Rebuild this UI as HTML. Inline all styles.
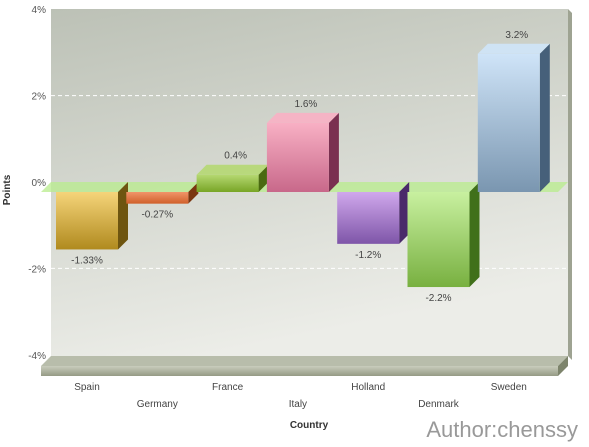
<!DOCTYPE html>
<html><head><meta charset="utf-8"><style>
body{margin:0;background:#fff;}
svg text{font-family:"Liberation Sans",sans-serif;}
</style></head><body>
<svg id="c" width="589" height="442" viewBox="0 0 589 442">
<defs>
<linearGradient id="bg" x1="0" y1="0" x2="0.3" y2="1"><stop offset="0" stop-color="#bcc1b6"/><stop offset="1" stop-color="#ecede8"/></linearGradient>
<linearGradient id="flr" x1="0" y1="0" x2="0" y2="1"><stop offset="0" stop-color="#c9cdbd"/><stop offset="1" stop-color="#959b85"/></linearGradient>
</defs>
<rect x="51" y="9" width="517" height="347" fill="url(#bg)"/>
<polygon points="568,9 572,13 572,360 568,356" fill="#9ea392"/>
<g id="grid"></g>
<g id="floor">
<polygon points="51,356 568,356 558,366 41,366" fill="#b8bdab"/>
<rect x="41" y="366" width="517" height="10" fill="url(#flr)"/>
<polygon points="558,366 568,356 568,366 558,376" fill="#7d846c"/>
</g>
<polygon points="51,182 568,182 558,192 41,192" fill="#b8ec8c" opacity="0.75"/>
<g id="bars"></g>
<g id="labels"></g>
<text x="10" y="190" transform="rotate(-90 10 190)" text-anchor="middle" font-size="10" font-weight="bold" fill="#333">Points</text>
<text x="309" y="428" text-anchor="middle" font-size="10" font-weight="bold" fill="#333">Country</text>
<text x="578" y="437" text-anchor="end" font-size="22" fill="#999">Author:chenssy</text>
</svg>
<script>
const categories=["Spain","Germany","France","Italy","Holland","Denmark","Sweden"];
const values=[-1.33,-0.27,0.4,1.6,-1.2,-2.2,3.2];
const valueLabels=["-1.33%","-0.27%","0.4%","1.6%","-1.2%","-2.2%","3.2%"];
const yTicks=[4,2,0,-2,-4];
const colors=[["#f5d47a","#b08a1e","#6e5510"],["#f0956a","#d0602a","#7a3510"],["#b5d872","#78a526","#4a6a10"],["#f8b0c4","#c8688a","#7a3050"],["#d0a8ec","#7e55a8","#4a2a6a"],["#c8f0a0","#78b040","#40701a"],["#cfe4f8","#7a96b0","#46607a"]];
const NS="http://www.w3.org/2000/svg";
const D=10, PX=43.2;
function yBack(v){return 182-v*PX;}
function yFront(v){return 192-v*PX;}
function xCenter(i){return 87+i*70.3;}
function mk(t,a,p){const e=document.createElementNS(NS,t);for(const k in a)e.setAttribute(k,a[k]);p.appendChild(e);return e;}
const grid=document.getElementById('grid');
yTicks.forEach(t=>{
  const y=yBack(t);
  if(t!==4&&t!==-4&&t!==0){const l=mk('line',{x1:51,x2:568,y1:y,y2:y,stroke:'#fff','stroke-dasharray':'4,3','stroke-width':1},grid);
  
  }
  const tx=mk('text',{x:46,y:y+4,'text-anchor':'end','font-size':10,fill:'#555'},grid);
  tx.textContent=t+'%';
  
  
});
const bars=document.getElementById('bars'),labels=document.getElementById('labels');
const defs=document.querySelector('defs');
values.forEach((v,i)=>{
  const c=colors[i];
  const g=mk('linearGradient',{id:'g'+i,x1:0,y1:0,x2:0,y2:1},defs);
  mk('stop',{offset:0,'stop-color':c[0]},g);mk('stop',{offset:1,'stop-color':c[1]},g);
  const x0=xCenter(i)-31,x1=xCenter(i)+31;
  const yt=Math.min(yFront(v),yFront(0)),yb=Math.max(yFront(v),yFront(0));
  const grp=mk('g',{},bars);
  
  
  mk('polygon',{points:`${x1},${yt} ${x1+D},${yt-D} ${x1+D},${yb-D} ${x1},${yb}`,fill:c[2]},grp);
  if(v>=0) mk('polygon',{points:`${x0},${yt} ${x0+D},${yt-D} ${x1+D},${yt-D} ${x1},${yt}`,fill:c[0],opacity:0.9},grp);
  mk('rect',{x:x0,y:yt,width:62,height:yb-yt,fill:'url(#g'+i+')'},grp);
  const ly=v>=0?yt-D-6:yb+14;
  const vt=mk('text',{x:xCenter(i)+(v>=0?8:0),y:ly,'text-anchor':'middle','font-size':10,fill:'#444'},labels);
  vt.textContent=valueLabels[i];
  
  
  const ct=mk('text',{x:xCenter(i),y:i%2?407:390,'text-anchor':'middle','font-size':10,fill:'#444'},labels);
  ct.textContent=categories[i];
  
  
});
</script>
</body></html>
